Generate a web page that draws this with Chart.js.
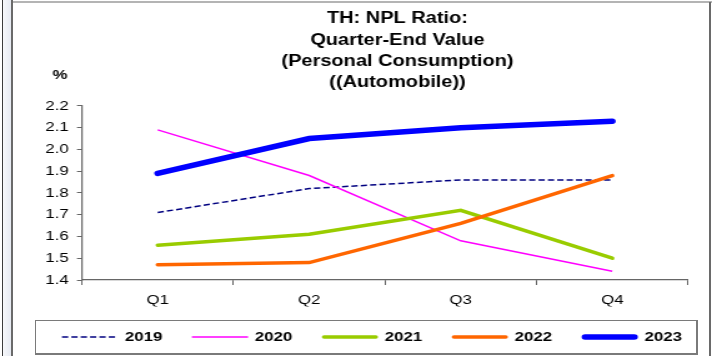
<!DOCTYPE html>
<html>
<head>
<meta charset="utf-8">
<script src="https://cdn.jsdelivr.net/npm/chart.js@4/dist/chart.umd.min.js"></script>
<style>
  html, body { margin: 0; padding: 0; background: #fff; }
  #wrap { position: relative; width: 712px; height: 356px; overflow: hidden; background: #fff; }
  #npl { position: absolute; left: 0; top: 0; transform: scaleX(1.24912); transform-origin: 0 0; }
  .edge { position: absolute; }
  #edgeOuter { left: 2px; top: 0; width: 1px; height: 356px; background: #3c3c3c; }
  #edgeStrip { left: 3px; top: 0; width: 8px; height: 356px; background: linear-gradient(to right, #f7f8fb, #e6eaf2); }
  #edgeInner { left: 11px; top: 0; width: 2px; height: 356px; background: #6a6a6a; }
  #edgeTop { left: 13px; top: 1px; width: 699px; height: 2px; background: #b4b4b4; }
  #edgeRight { left: 709px; top: 2px; width: 2px; height: 354px; background: #6a6a6a; }
  #legendFrame { left: 35px; top: 320px; width: 660px; height: 32px; border: 1px solid #7a7a7a; border-right-width: 2px; border-bottom-width: 2px; }
</style>
</head>
<body>
<div id="wrap">
  <canvas id="npl" width="570" height="356"></canvas>
  <div class="edge" id="edgeOuter"></div>
  <div class="edge" id="edgeStrip"></div>
  <div class="edge" id="edgeInner"></div>
  <div class="edge" id="edgeTop"></div>
  <div class="edge" id="edgeRight"></div>
  <div class="edge" id="legendFrame"></div>
</div>
<script>
var quarters = ['Q1', 'Q2', 'Q3', 'Q4'];
var npl2019 = [1.71, 1.82, 1.86, 1.86];
var npl2020 = [2.09, 1.88, 1.58, 1.44];
var npl2021 = [1.56, 1.61, 1.72, 1.50];
var npl2022 = [1.47, 1.48, 1.66, 1.88];
var npl2023 = [1.89, 2.05, 2.10, 2.13];
var yearLabels = ['2019', '2020', '2021', '2022', '2023'];

var FONT = '"Liberation Sans", Arial, sans-serif';
var AXIS = '#666666';

// legend drawn by hand: one row of line samples under the plot
var lineLegend = {
    id: 'lineLegend',
    afterDraw: function (chart) {
        var ctx = chart.ctx;
        var x = 49.6, y = 337, sample = 45, step = 104;
        ctx.save();
        ctx.font = 'bold 13.5px ' + FONT;
        ctx.textBaseline = 'middle';
        ctx.textAlign = 'left';
        chart.data.datasets.forEach(function (ds, i) {
            var x0 = x + i * step;
            var inset = ds.borderCapStyle === 'round' ? ds.borderWidth / 2 : 0;
            ctx.strokeStyle = ds.borderColor;
            ctx.lineWidth = ds.borderWidth;
            ctx.lineCap = ds.borderCapStyle || 'butt';
            ctx.setLineDash(ds.borderDash || []);
            ctx.beginPath();
            ctx.moveTo(x0 + inset, y);
            ctx.lineTo(x0 + sample - inset, y);
            ctx.stroke();
            ctx.setLineDash([]);
            ctx.fillStyle = '#000';
            ctx.fillText(ds.label, x0 + sample + 5.5, y);
        });
        ctx.restore();
    }
};

// unit label above the value axis; title nudged right of the plot centre
var unitLabel = {
    id: 'unitLabel',
    afterLayout: function (chart) {
        if (chart.titleBlock) {
            chart.titleBlock.left += 10;
            chart.titleBlock.right += 10;
        }
    },
    afterDraw: function (chart) {
        var ctx = chart.ctx, area = chart.chartArea;
        ctx.save();
        ctx.font = 'bold 13.5px ' + FONT;
        ctx.fillStyle = '#000';
        ctx.textAlign = 'center';
        ctx.textBaseline = 'middle';
        ctx.fillText('%', area.left - 17.6, area.top - 31);
        ctx.restore();
    }
};

var ctx = document.getElementById('npl').getContext('2d');

var nplChart = new Chart(ctx, {
    type: 'line',
    data: {
        labels: quarters,
        datasets: [
            { label: yearLabels[0], data: npl2019, borderColor: '#000080', borderWidth: 1.5, borderDash: [5, 2.5], order: 5 },
            { label: yearLabels[1], data: npl2020, borderColor: '#ff00ff', borderWidth: 1.5, order: 4 },
            { label: yearLabels[2], data: npl2021, borderColor: '#99cc00', borderWidth: 3.5, borderCapStyle: 'round', order: 3 },
            { label: yearLabels[3], data: npl2022, borderColor: '#ff6600', borderWidth: 3.5, borderCapStyle: 'round', order: 2 },
            { label: yearLabels[4], data: npl2023, borderColor: '#0000ff', borderWidth: 5.5, borderCapStyle: 'round', order: 1 }
        ]
    },
    options: {
        responsive: false,
        animation: false,
        devicePixelRatio: 1,
        datasets: {
            line: { pointRadius: 0, tension: 0, fill: false }
        },
        layout: {
            padding: { left: 25.6, right: 19.2, top: 0, bottom: 49.5 }
        },
        plugins: {
            legend: { display: false },
            tooltip: { enabled: false },
            title: {
                display: true,
                fullSize: false,
                text: ['TH: NPL Ratio:', 'Quarter-End Value', '(Personal Consumption)', '((Automobile))'],
                color: '#000',
                font: { family: FONT, size: 16, weight: 'bold', lineHeight: 1.33 },
                padding: { top: 8.2, bottom: 12.6 }
            }
        },
        scales: {
            x: {
                offset: true,
                grid: { offset: true, drawOnChartArea: false, tickLength: 5, color: AXIS },
                border: { color: AXIS, width: 1.2 },
                ticks: { color: '#000', font: { family: FONT, size: 13.5 }, padding: 7, maxRotation: 0 },
                afterFit: function (scale) { scale.height = 26.5; }
            },
            y: {
                min: 1.4,
                max: 2.2,
                grid: { drawOnChartArea: false, tickLength: 4, color: AXIS },
                border: { color: AXIS, width: 1.2 },
                ticks: {
                    stepSize: 0.1,
                    color: '#000',
                    font: { family: FONT, size: 13.5 },
                    padding: 6.5,
                    callback: function (v) { return v.toFixed(1); }
                },
                afterFit: function (scale) { scale.width = 40; }
            }
        }
    },
    plugins: [lineLegend, unitLabel]
});
</script>
</body>
</html>
